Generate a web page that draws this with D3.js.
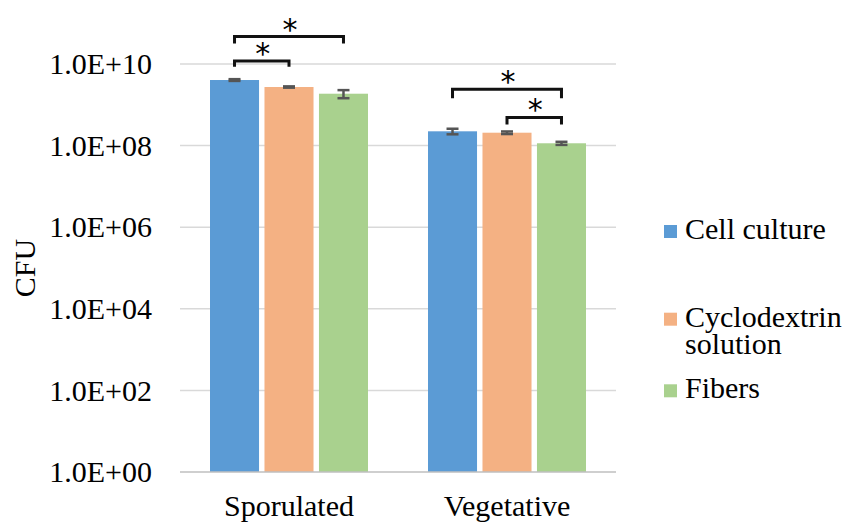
<!DOCTYPE html>
<html>
<head>
<meta charset="utf-8">
<script src="https://cdn.jsdelivr.net/npm/d3@7"></script>
<style>
  html, body { margin: 0; padding: 0; background: #fff; }
  #chart text { font-family: "Liberation Serif", "Times New Roman", serif; fill: #000; }
  #chart text.star { font-family: "DejaVu Sans", sans-serif; }
</style>
</head>
<body>
<svg id="chart" width="848" height="522" font-family="Liberation Serif"></svg>
<script>
// ---- data ----
const categories = ["Sporulated", "Vegetative"];
const seriesNames = ["Cell culture", "Cyclodextrin solution", "Fibers"];
const legendLines = [["Cell culture"], ["Cyclodextrin", "solution"], ["Fibers"]];
const cellCulture = [4.05e9, 2.24e8];
const cyclodextrin = [2.73e9, 2.07e8];
const fibers = [1.87e9, 1.14e8];
const cellCultureErr = [0.2e9, 0.35e8];
const cyclodextrinErr = [0.1e9, 0.15e8];
const fibersErr = [0.42e9, 0.1e8];
const yTicks = [1e0, 1e2, 1e4, 1e6, 1e8, 1e10];
const yTickLabels = ["1.0E+00", "1.0E+02", "1.0E+04", "1.0E+06", "1.0E+08", "1.0E+10"];
// significance brackets: category, from series, to series, bracket level (data units), leg end level
const brackets = [
  { cat: "Sporulated", from: 0, to: 2, level: 4.7e10, leg: 3.2e10, label: "*" },
  { cat: "Sporulated", from: 0, to: 1, level: 1.19e10, leg: 8.6e9, label: "*" },
  { cat: "Vegetative", from: 0, to: 2, level: 2.4e9, leg: 1.45e9, label: "*" },
  { cat: "Vegetative", from: 1, to: 2, level: 4.9e8, leg: 3.3e8, label: "*" }
];

const colors = ["#5b9bd5", "#f4b183", "#a9d18e"];
const values = [cellCulture, cyclodextrin, fibers];
const errors = [cellCultureErr, cyclodextrinErr, fibersErr];

// ---- layout ----
const svg = d3.select("#chart");
const plot = { left: 180, right: 616, top: 64, bottom: 472 };
const FONT = 30;
const SERIF = "Liberation Serif";

const x0 = d3.scaleBand().domain(categories).range([plot.left, plot.right]).paddingInner(0).paddingOuter(0);
const x1 = d3.scaleBand().domain(d3.range(seriesNames.length))
  .range([30, x0.bandwidth() - 30]).paddingInner(0.1).paddingOuter(0);
const y = d3.scaleLog().domain([1, 1e10]).range([plot.bottom, plot.top]);

// gridlines
svg.append("g").selectAll("line").data(yTicks.slice(1)).join("line")
  .attr("x1", plot.left).attr("x2", plot.right)
  .attr("y1", d => y(d)).attr("y2", d => y(d))
  .attr("stroke", "#d9d9d9").attr("stroke-width", 1.5);

// y axis labels
const yAxis = d3.axisLeft(y).tickValues(yTicks).tickSize(0).tickPadding(28)
  .tickFormat(d => yTickLabels[yTicks.indexOf(d)]);
const gy = svg.append("g").attr("transform", `translate(${plot.left},0)`).call(yAxis);
gy.attr("font-family", SERIF).attr("font-size", FONT);
gy.select(".domain").remove();
gy.selectAll("text").attr("font-size", FONT).attr("font-family", SERIF).attr("fill", "#000").attr("dy", "0.32em");

// bars
const groups = svg.append("g").selectAll("g").data(categories).join("g")
  .attr("transform", d => `translate(${x0(d)},0)`);
groups.each(function(cat, ci) {
  const g = d3.select(this);
  seriesNames.forEach((s, si) => {
    const v = values[si][ci];
    g.append("rect")
      .attr("x", x1(si)).attr("width", x1.bandwidth())
      .attr("y", y(v)).attr("height", y(1) - y(v))
      .attr("fill", colors[si]);
  });
  seriesNames.forEach((s, si) => {
    const v = values[si][ci], e = errors[si][ci];
    const cx = x1(si) + x1.bandwidth() / 2;
    const yt = y(v + e), yb = y(v - e);
    const eg = g.append("g").attr("stroke", "#555").attr("stroke-width", 2.5);
    eg.append("line").attr("x1", cx).attr("x2", cx).attr("y1", yt).attr("y2", yb);
    eg.append("line").attr("x1", cx - 6).attr("x2", cx + 6).attr("y1", yt).attr("y2", yt);
    eg.append("line").attr("x1", cx - 6).attr("x2", cx + 6).attr("y1", yb).attr("y2", yb);
  });
});

// x axis line
svg.append("line").attr("x1", plot.left).attr("x2", plot.right)
  .attr("y1", y(1)).attr("y2", y(1)).attr("stroke", "#bfbfbf").attr("stroke-width", 1.5);

// x labels
svg.append("g").selectAll("text").data(categories).join("text")
  .attr("x", d => x0(d) + x0.bandwidth() / 2)
  .attr("y", 516).attr("text-anchor", "middle").attr("font-size", FONT).attr("font-family", SERIF)
  .text(d => d);

// y title
svg.append("text").attr("transform", "translate(35,268) rotate(-90)")
  .attr("text-anchor", "middle").attr("font-size", FONT).attr("font-family", SERIF).text("CFU");

// significance brackets
const bg = svg.append("g");
brackets.forEach(b => {
  const xa = x0(b.cat) + x1(b.from) + x1.bandwidth() / 2;
  const xb = x0(b.cat) + x1(b.to) + x1.bandwidth() / 2;
  const yl = y(b.level), yg = y(b.leg);
  bg.append("path")
    .attr("d", `M${xa},${yg}V${yl}H${xb}V${yg}`)
    .attr("fill", "none").attr("stroke", "#111").attr("stroke-width", 3);
  bg.append("text").attr("class", "star").attr("x", (xa + xb) / 2 + 1).attr("y", yl + 3)
    .attr("text-anchor", "middle").attr("font-size", 30).attr("font-family", "DejaVu Sans")
    .text(b.label);
});

// legend
const legendY = [239, 326.7, 398.3];
const leg = svg.append("g");
seriesNames.forEach((s, i) => {
  leg.append("rect").attr("x", 664).attr("y", legendY[i] - 14).attr("width", 13).attr("height", 13)
    .attr("fill", colors[i]);
  legendLines[i].forEach((line, li) => {
    leg.append("text").attr("x", 685).attr("y", legendY[i] + li * 27.3)
      .attr("font-size", FONT).attr("font-family", SERIF).text(line);
  });
});
</script>
</body>
</html>
